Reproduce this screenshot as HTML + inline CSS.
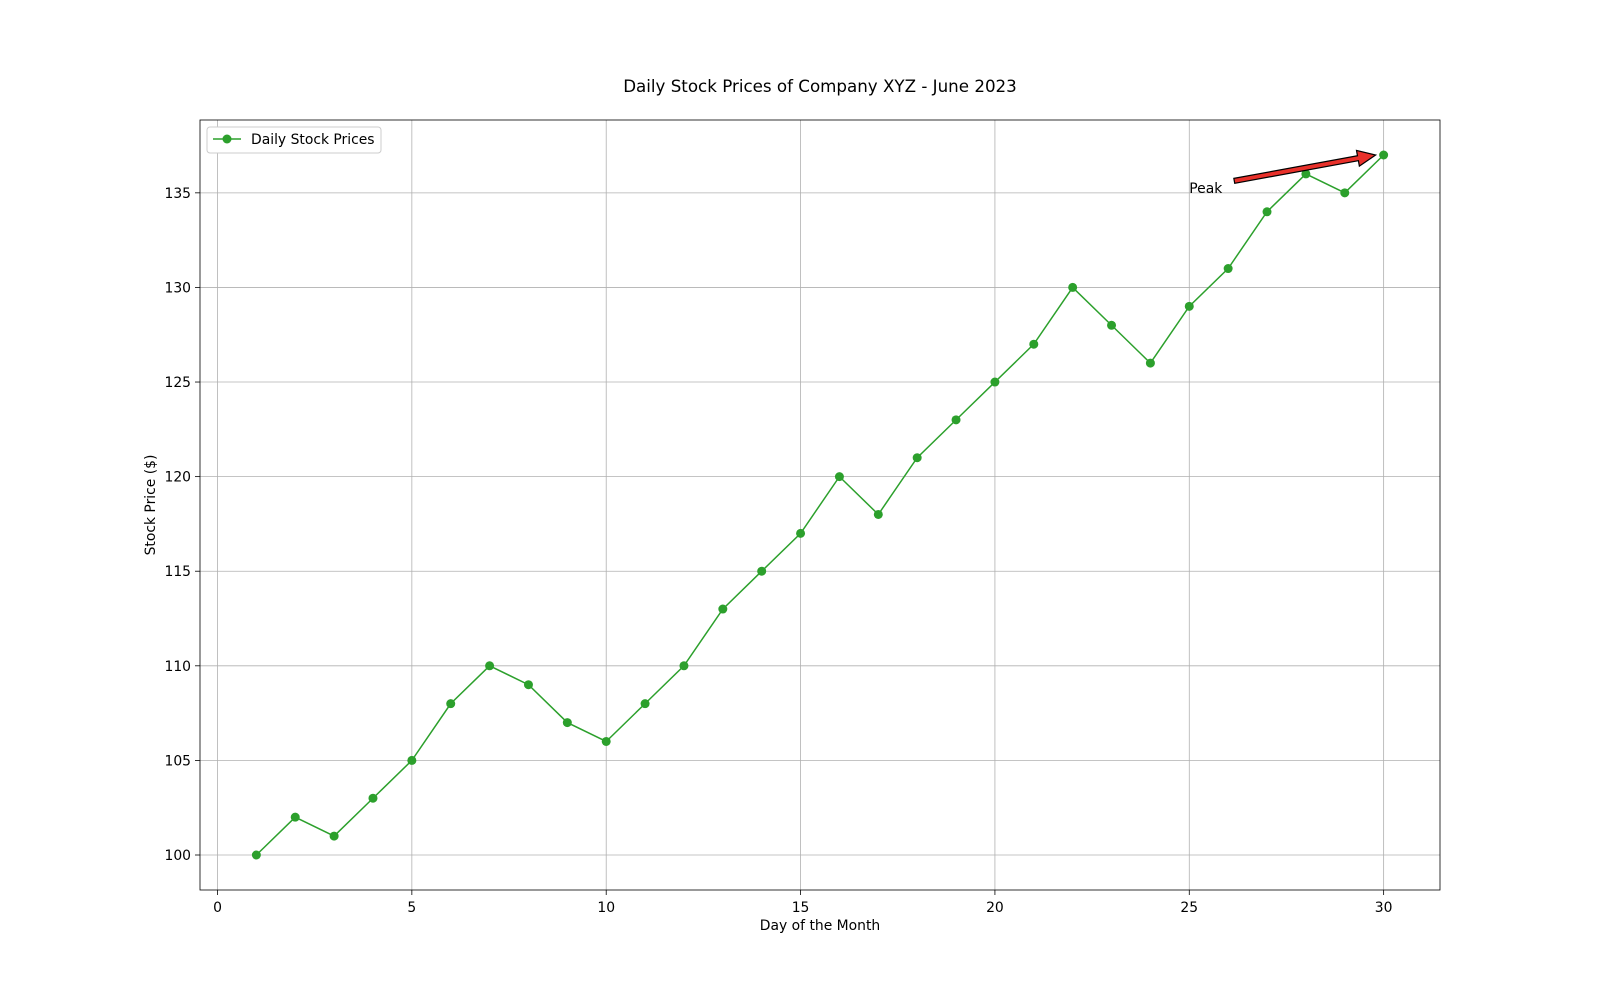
<!DOCTYPE html>
<html><head><meta charset="utf-8"><style>
body{margin:0;background:#fff;}
svg{font-family:"DejaVu Sans","Liberation Sans",sans-serif;}
</style></head><body>
<svg id="chart" width="1600" height="1000" viewBox="0 0 1600 1000">
<rect width="1600" height="1000" fill="#fff"/>
<g id="grid"></g>
<g id="axes"></g>
<g id="series"></g>
<text x="820" y="92" font-size="16.7" text-anchor="middle">Daily Stock Prices of Company XYZ - June 2023</text>
<text x="820" y="930" font-size="13.9" text-anchor="middle">Day of the Month</text>
<text x="0" y="0" font-size="13.9" text-anchor="middle" transform="translate(155,505) rotate(-90)">Stock Price ($)</text>
<g>
<rect x="207" y="127" width="174" height="26" fill="#fff" stroke="#ccc" rx="3"/>
<line x1="213" y1="139" x2="241" y2="139" stroke="#2ca02c" stroke-width="1.5"/>
<circle cx="227" cy="139" r="4.5" fill="#2ca02c"/>
<text x="251" y="144" font-size="13.9">Daily Stock Prices</text>
</g>
<g id="annot"></g>
</svg>
<script>
const days=[1,2,3,4,5,6,7,8,9,10,11,12,13,14,15,16,17,18,19,20,21,22,23,24,25,26,27,28,29,30];
const prices=[100,102,101,103,105,108,110,109,107,106,108,110,113,115,117,120,118,121,123,125,127,130,128,126,129,131,134,136,135,137];
const xTicks=[0,5,10,15,20,25,30];
const yTicks=[100,105,110,115,120,125,130,135];
const L=200,R=1440,T=120,B=890;
const xmin=Math.min(...days),xmax=Math.max(...days),xm=(xmax-xmin)*0.05;
const ymin=Math.min(...prices),ymax=Math.max(...prices),ym=(ymax-ymin)*0.05;
const X=v=>L+(v-(xmin-xm))/((xmax+xm)-(xmin-xm))*(R-L);
const Y=v=>B-(v-(ymin-ym))/((ymax+ym)-(ymin-ym))*(B-T);
const NS="http://www.w3.org/2000/svg";
function mk(tag,attrs,parent){const e=document.createElementNS(NS,tag);for(const k in attrs)e.setAttribute(k,attrs[k]);parent.appendChild(e);return e;}
const grid=document.getElementById('grid'),axes=document.getElementById('axes'),series=document.getElementById('series'),annot=document.getElementById('annot');
xTicks.forEach(t=>{
 const g=mk('line',{x1:X(t),x2:X(t),y1:T,y2:B,stroke:'#b0b0b0','stroke-width':0.8},grid);
 
 
 const tk=mk('line',{x1:X(t),x2:X(t),y1:B,y2:B+5,stroke:'#000','stroke-width':0.8},axes);
 
 
 const tx=mk('text',{x:X(t),y:B+22,'font-size':13.9,'text-anchor':'middle'},axes);
 tx.textContent=t;
 
 
});
yTicks.forEach(t=>{
 const g=mk('line',{x1:L,x2:R,y1:Y(t),y2:Y(t),stroke:'#b0b0b0','stroke-width':0.8},grid);
 
 
 const tk=mk('line',{x1:L-5,x2:L,y1:Y(t),y2:Y(t),stroke:'#000','stroke-width':0.8},axes);
 
 
 const tx=mk('text',{x:L-9,y:Y(t)+5,'font-size':13.9,'text-anchor':'end'},axes);
 tx.textContent=t;
 
 
});
const frame=mk('rect',{x:L,y:T,width:R-L,height:B-T,fill:'none',stroke:'#000','stroke-width':0.8},axes);


const line=mk('polyline',{points:days.map((d,i)=>X(d)+','+Y(prices[i])).join(' '),fill:'none',stroke:'#2ca02c','stroke-width':1.5},series);


days.forEach((d,i)=>{
 const c=mk('circle',{cx:X(d),cy:Y(prices[i]),r:4.5,fill:'#2ca02c'},series);
 
 
});
const pi=prices.indexOf(Math.max(...prices));
const tipX=X(days[pi])-8,tipY=Y(prices[pi]);
const tailX=X(25)+45,tailY=Y(135)-12;
const ang=Math.atan2(tipY-tailY,tipX-tailX),len=Math.hypot(tipX-tailX,tipY-tailY);
const ax=mk('path',{d:`M0,-2.5 L${len-18},-2.5 L${len-18},-8 L${len},0 L${len-18},8 L${len-18},2.5 L0,2.5 Z`,fill:'#e8302a',stroke:'#000','stroke-width':1.2,transform:`translate(${tailX},${tailY}) rotate(${ang*180/Math.PI})`},annot);


const pt=mk('text',{x:X(25),y:Y(135)+0,'font-size':13.9},annot);
pt.textContent='Peak';


</script>
</body></html>
